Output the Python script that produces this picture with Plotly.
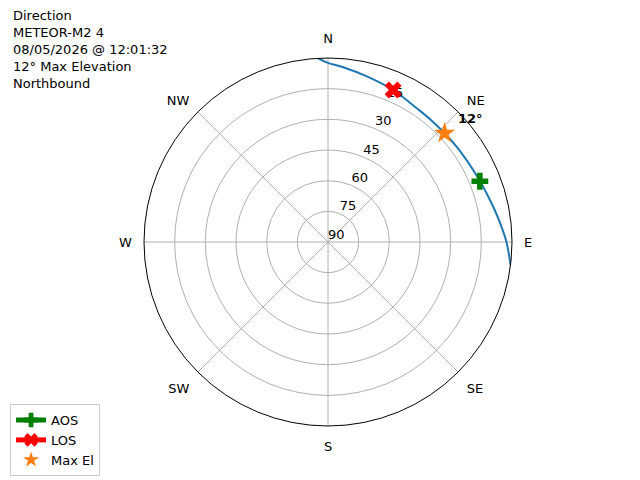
import math
import plotly.graph_objects as go

# Pass track (azimuth deg, elevation deg)
track_az = [356.9, 0.0, 5.0, 13.2, 23.2, 33.6, 40.0, 47.0, 55.0, 67.7, 75.0, 80.2, 85.0, 90.0, 97.2]
track_el = [0.0, 2.4, 4.2, 6.8, 9.1, 11.5, 11.9, 12.0, 11.6, 10.0, 8.3, 6.6, 4.8, 2.7, 0.0]

aos_az, aos_el = [68.2], [10.0]
los_az, los_el = [23.2], [9.1]
max_az, max_el = [47.0], [12.0]

compass_vals = [0, 45, 90, 135, 180, 225, 270, 315]
compass_text = ["N", "NE", "E", "SE", "S", "SW", "W", "NW"]
ring_vals = [0, 15, 30, 45, 60, 75]
ring_text = ["90", "75", "60", "45", "30", "15"]
ring_label_az = 22.5

title_lines = ["Direction", "METEOR-M2 4", "08/05/2026 @ 12:01:32",
               "12° Max Elevation", "Northbound"]

def r_of(el):
    return [90 - e for e in el]

FONT = "DejaVu Sans"
fig = go.Figure()
fig.add_trace(go.Scatterpolar(r=r_of(track_el), theta=track_az, mode="lines",
                              line=dict(color="#1f77b4", width=2, shape="spline"),
                              showlegend=False, hoverinfo="skip"))
# radial ring labels
fig.add_trace(go.Scatterpolar(r=ring_vals, theta=[ring_label_az] * len(ring_vals), mode="text",
                              text=ring_text, textposition="top right",
                              textfont=dict(family=FONT, size=13, color="black"),
                              showlegend=False, hoverinfo="skip"))
fig.add_trace(go.Scatterpolar(r=r_of(aos_el), theta=aos_az, mode="lines+markers", name="AOS",
                              line=dict(color="green", width=2),
                              marker=dict(symbol="cross", size=14, color="green")))
fig.add_trace(go.Scatterpolar(r=r_of(los_el), theta=los_az, mode="lines+markers", name="LOS",
                              line=dict(color="red", width=2),
                              marker=dict(symbol="x", size=15, color="red")))
fig.add_trace(go.Scatterpolar(r=r_of(max_el), theta=max_az, mode="markers", name="Max El",
                              marker=dict(symbol="star", size=16, color="#ff7f0e",
                                          line=dict(width=0))))

# max-elevation label, anchored at the max point (polar domain is the unit paper square)
mr = (90 - max_el[0]) / 90.0
ma = math.radians(max_az[0])
mx = 0.5 + 0.5 * mr * math.sin(ma)
my = 0.5 + 0.5 * mr * math.cos(ma)

fig.update_layout(
    width=640, height=480,
    margin=dict(l=136, r=136, t=50, b=62, autoexpand=False),
    paper_bgcolor="white",
    font=dict(family=FONT, size=13, color="black"),
    polar=dict(
        bgcolor="white",
        domain=dict(x=[0, 1], y=[0, 1]),
        angularaxis=dict(rotation=90, direction="clockwise",
                         tickmode="array", tickvals=compass_vals, ticktext=compass_text,
                         showgrid=True, gridcolor="#b0b0b0", gridwidth=1,
                         linecolor="black", linewidth=1,
                         ticks="outside", ticklen=9, tickcolor="rgba(0,0,0,0)",
                         tickfont=dict(size=13)),
        radialaxis=dict(range=[0, 90], tickmode="array", tickvals=ring_vals,
                        showticklabels=False, showline=False, ticks="",
                        showgrid=True, gridcolor="#b0b0b0", gridwidth=1),
    ),
    legend=dict(x=-0.364, y=-0.136, xanchor="left", yanchor="bottom",
                bordercolor="#cccccc", borderwidth=1, bgcolor="white",
                font=dict(size=13), itemsizing="constant"),
    annotations=[
        dict(text="<br>".join(title_lines), xref="paper", yref="paper",
             x=-0.361, y=1.1413, xanchor="left", yanchor="top", align="left",
             showarrow=False, font=dict(size=13)),
        dict(text="<b>%d°</b>" % max_el[0], xref="paper", yref="paper",
             x=mx, y=my, xshift=26, yshift=15, xanchor="center", yanchor="middle",
             showarrow=False, font=dict(size=13, color="black")),
    ],
)
fig.write_html("out.html")
